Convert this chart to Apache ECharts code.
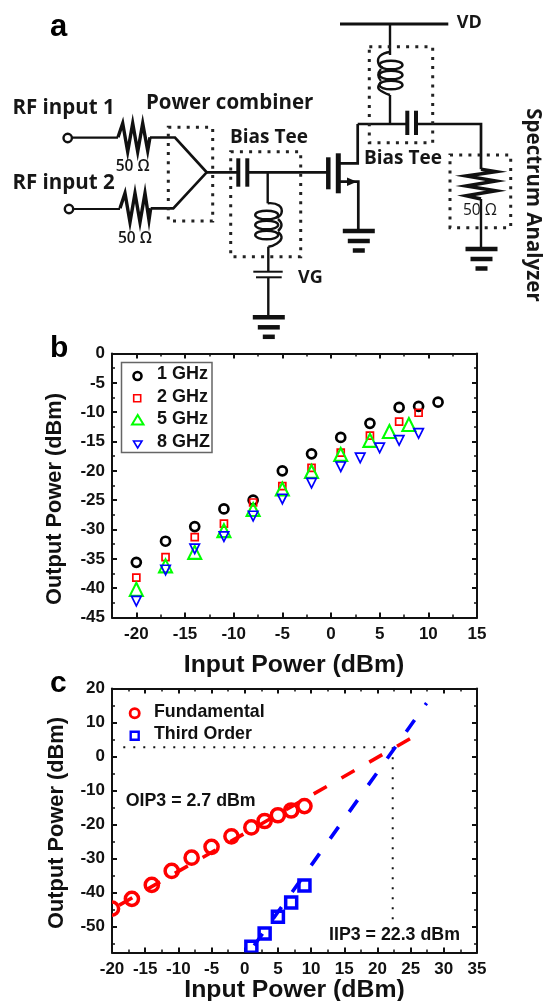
<!DOCTYPE html>
<html>
<head>
<meta charset="utf-8">
<title>Power amplifier linearity</title>
<style>
    html, body { margin: 0; padding: 0; background: #fff; }
    #chart { width: 543px; height: 1001px; }
</style>
<script src="https://cdn.jsdelivr.net/npm/echarts@6/dist/echarts.min.js"></script>
</head>
<body>
<div id="chart"></div>
<script>
/* ---------- panel b ---------- */
const gain1x = [-20, -17, -14, -11, -8, -5, -2, 1, 4, 7, 9, 11];
const gain1y = [-35.6, -32, -29.5, -26.5, -25, -20, -17.1, -14.3, -11.9, -9.2, -9, -8.3];
const gain2x = [-20, -17, -14, -11, -8, -5, -2, 1, 4, 7, 9];
const gain2y = [-38.2, -34.7, -31.3, -29, -25.4, -22.6, -19.5, -16.9, -14, -11.6, -10.1];
const gain5x = [-20, -17, -14, -11, -8, -5, -2, 1, 4, 6, 8];
const gain5y = [-40.2, -36.2, -33.9, -30.2, -26.6, -23.1, -20.1, -17.2, -14.8, -13.3, -12.1];
const gain8x = [-20, -17, -14, -11, -8, -5, -2, 1, 3, 5, 7, 9];
const gain8y = [-42.2, -36.9, -33.3, -31.2, -27.7, -24.8, -22.1, -19.3, -17.8, -16.1, -14.8, -13.6];

const bTicksX = [-20, -15, -10, -5, 0, 5, 10, 15];
const bMinorX = [-17.5, -12.5, -7.5, -2.5, 2.5, 7.5, 12.5];
const bTicksY = [0, -5, -10, -15, -20, -25, -30, -35, -40, -45];
const bMinorY = [-2.5, -7.5, -12.5, -17.5, -22.5, -27.5, -32.5, -37.5, -42.5];

/* ---------- panel c ---------- */
const fundX = [-20, -17, -14, -11, -8, -5, -2, 1, 3, 5, 7, 9];
const fundY = [-44.8, -41.9, -37.8, -33.7, -29.8, -26.6, -23.5, -20.9, -19, -17.3, -15.9, -14.6];
const thirdX = [1, 3, 5, 7, 9];
const thirdY = [-56, -52.1, -47.2, -43, -38];
const fundFitX = [-20, 24.9];
const fundFitY = [-45, 5.2];
const thirdFitX = [1, 27.4];
const thirdFitY = [-56.8, 15.7];
const oipGuideX = [-18.3, 22.3];
const oipGuideY = [2.7, 2.7];
const iipGuideX = [22.3, 22.3];
const iipGuideY = [2.7, -49];

const cTicksX = [-20, -15, -10, -5, 0, 5, 10, 15, 20, 25, 30, 35];
const cMinorX = [-17.5, -12.5, -7.5, -2.5, 2.5, 7.5, 12.5, 17.5, 22.5, 27.5, 32.5];
const cTicksY = [20, 10, 0, -10, -20, -30, -40, -50];
const cMinorY = [15, 5, -5, -15, -25, -35, -45, -55];

const zip = (xs, ys) => xs.map((x, i) => [x, ys[i]]);

const AXIS_FONT = "Liberation Sans";
const SCHEMATIC_FONT = "Open Sans";
const INK = "#111";

// 四条边都要刻度：主刻度一根轴，次刻度一根轴，上下左右各一份
function axisSet(dim, gridIndex, min, max, major, minor) {
    const sides = dim === "x" ? ["bottom", "top"] : ["left", "right"];
    const base = {
        type: "value", gridIndex, min, max,
        splitLine: { show: false },
        minorTick: { show: false },
    };
    const axes = [];
    sides.forEach((position, s) => {
        axes.push({
            ...base, position,
            axisLine: { show: true, onZero: false, lineStyle: { color: INK, width: 2 } },
            axisTick: { show: true, inside: true, length: 5, customValues: major, lineStyle: { color: INK, width: 2 } },
            axisLabel: {
                show: s === 0, customValues: major, margin: dim === "x" ? 8 : 7,
                color: INK, fontFamily: AXIS_FONT, fontWeight: "bold", fontSize: 17,
            },
        });
        axes.push({
            ...base, position,
            axisLine: { show: false, onZero: false },
            axisTick: { show: true, inside: true, length: 3, customValues: minor, lineStyle: { color: INK, width: 1.5 } },
            axisLabel: { show: false },
        });
    });
    return axes;
}

function hollowSeries(name, xs, ys, symbol, size, color, width, rotate) {
    return {
        name, type: "scatter", xAxisIndex: 0, yAxisIndex: 0,
        symbol, symbolSize: size, symbolRotate: rotate || 0,
        itemStyle: { color: "rgba(0,0,0,0)", borderColor: color, borderWidth: width, opacity: 1 },
        data: zip(xs, ys),
    };
}

// 面板 c 的点在边框处被裁掉一半，scatter 只按中心过滤，所以用 custom
function clippedSeries(name, xs, ys, draw) {
    return {
        name, type: "custom", xAxisIndex: 4, yAxisIndex: 4, clip: true, z: 4,
        encode: { x: 0, y: 1 },
        renderItem: (params, api) => draw(api.coord([api.value(0), api.value(1)])),
        data: zip(xs, ys),
    };
}

function fitLine(name, xs, ys, color, dash, dashOffset) {
    return {
        name, type: "line", xAxisIndex: 4, yAxisIndex: 4, showSymbol: false, z: 3,
        lineStyle: { color, width: 3.6, type: dash, dashOffset },
        data: zip(xs, ys),
    };
}

function guideLine(name, xs, ys) {
    return {
        name, type: "line", xAxisIndex: 4, yAxisIndex: 4, showSymbol: false, z: 2,
        lineStyle: { color: INK, width: 2, type: [2, 8] },
        data: zip(xs, ys),
    };
}

/* ---------- 电路图和文字 ---------- */
const wire = (points, lineWidth = 2.7, stroke = INK) => ({
    type: "polyline", shape: { points }, style: { stroke, lineWidth, fill: "none" },
});
const smoothWire = (points) => ({
    type: "polyline", shape: { points, smooth: 0.5 }, style: { stroke: INK, lineWidth: 2.4, fill: "none" },
});
const dottedBox = (l, t, r, b) => ({
    type: "rect", shape: { x: l, y: t, width: r - l, height: b - t },
    style: { stroke: "#222", lineWidth: 3, lineDash: [3, 6.2], fill: "none" },
});
const loop = (cx, cy) => ({
    type: "ellipse", shape: { cx, cy, rx: 11.5, ry: 4.3 }, style: { stroke: INK, lineWidth: 2.4, fill: "none" },
});
const terminal = (cx, cy) => ({
    type: "circle", shape: { cx, cy, r: 4.2 }, style: { stroke: INK, lineWidth: 2.4, fill: "#fff" },
});
const ground = (cx, top) => [
    wire([[cx - 16, top], [cx + 16, top]], 4.5),
    wire([[cx - 11, top + 10], [cx + 11, top + 10]], 4.5),
    wire([[cx - 6, top + 19.5], [cx + 6, top + 19.5]], 4.5),
];
const label = (text, x, y, size, opts = {}) => ({
    type: "text", x, y, rotation: opts.rotation || 0, z: 10,
    style: {
        text, x: 0, y: 0, fill: opts.fill || "#161616",
        font: `${opts.weight || "bold"} ${size}px "${opts.family || SCHEMATIC_FONT}"`,
        align: opts.align || "left", verticalAlign: "middle",
    },
});
const axisText = (text, x, y, size, rotation) =>
    label(text, x, y, size, { family: AXIS_FONT, align: "center", rotation, fill: INK });

const schematic = [
    // 输入端和电阻
    terminal(67.7, 138), wire([[72, 137.7], [118, 137.7]], 2.2),
    wire([[118, 137.3], [122.7, 123.3], [127.7, 151.7], [132.7, 123.3], [137.7, 151.7], [142.7, 123.3], [147.7, 150.7], [150, 137.3]], 3.4),
    terminal(69, 209), wire([[73, 209], [120, 209]], 2.2),
    wire([[120, 208.3], [125, 193.3], [130, 222.3], [135, 193.3], [140, 222.3], [145, 193.3], [149, 220], [150.7, 208.3]], 3.4),
    // 合路器
    wire([[150, 137.5], [175, 137.5], [206.7, 172.3], [173.3, 208.3], [150.7, 208.3]]),
    wire([[206.7, 172.3], [238.3, 172.3]]),
    dottedBox(168.3, 127.3, 212.7, 221),
    // 栅极偏置
    wire([[238.3, 158.3], [238.3, 186.7]], 4), wire([[247.3, 158.3], [247.3, 186.7]], 4),
    wire([[247.3, 172.3], [328, 172.3]]),
    wire([[267.7, 172.3], [267.7, 203.3]], 2.4),
    smoothWire([[267.7, 203.3], [279, 205.5], [281.5, 213], [276, 218]]),
    loop(266.7, 215), loop(266.7, 225), loop(266.7, 235),
    smoothWire([[278, 219], [281.5, 225], [278, 231]]),
    smoothWire([[278, 232], [281.5, 238], [276, 244], [268.3, 246.7]]),
    wire([[268.3, 246.7], [268.3, 271.7]], 2.4),
    wire([[253.3, 271.7], [282.7, 271.7]], 2), wire([[256, 277.3], [281.7, 277.3]], 2),
    wire([[268.3, 277.3], [268.3, 317]], 2.4),
    ...ground(268.8, 317.3),
    dottedBox(230.7, 151.7, 300.7, 256.7),
    // 晶体管
    wire([[328.3, 157.3], [328.3, 189.3]], 4.5), wire([[338.3, 153.3], [338.3, 193.3]], 5),
    wire([[338.3, 163.3], [357.7, 163.3], [357.7, 124]]),
    wire([[338.3, 181.7], [358.3, 181.7], [358.3, 231]]),
    { type: "polygon", shape: { points: [[357, 181.7], [347, 177.5], [347, 186]] }, style: { fill: INK } },
    ...ground(358.8, 231),
    // 漏极偏置
    wire([[340, 24], [448.3, 24]], 3),
    wire([[390, 24], [390, 55]], 2.4),
    smoothWire([[390, 52], [380, 56], [378.3, 63], [383, 68]]),
    loop(391, 65), loop(391, 75), loop(391, 85),
    smoothWire([[381, 69], [378.3, 75], [381, 81]]),
    smoothWire([[381, 82], [378.3, 88], [383, 92], [390, 95]]),
    wire([[390, 95], [390, 124]], 2.4),
    wire([[357.7, 124], [407.3, 124]]),
    wire([[407.3, 110.7], [407.3, 135]], 4), wire([[416, 110.7], [416, 135]], 4),
    wire([[416, 124], [481, 124], [481, 169.3]]),
    dottedBox(369.3, 46.7, 432.7, 142.7),
    // 负载
    wire([[481, 169.3], [496, 171.7], [466, 176], [496, 181], [466, 186], [496, 190.7], [466, 195.7], [481, 199]], 3.4),
    wire([[481, 199], [481, 249]], 2.4),
    ...ground(481.5, 249),
    dottedBox(450, 155, 510.7, 227.7),
    // 电路图文字
    label("RF input 1", 12.5, 108, 20.5),
    label("RF input 2", 12.5, 182.7, 20.5),
    label("Power combiner", 146, 103, 20.5),
    label("Bias Tee", 230, 138, 19),
    label("Bias Tee", 364, 159, 19),
    label("50 Ω", 115.7, 166.7, 15.5, { weight: 600 }),
    label("50 Ω", 118, 238.3, 15.5, { weight: 600 }),
    label("50 Ω", 463, 210.7, 15.5, { weight: 400 }),
    label("VG", 298, 278, 18),
    label("VD", 456.7, 22.7, 18),
    label("Spectrum Analyzer", 533, 205, 20.5, { align: "center", rotation: -Math.PI / 2 }),
];

const legendB = [
    { type: "rect", shape: { x: 121.5, y: 362.5, width: 90.5, height: 90 }, style: { stroke: "#666", lineWidth: 1.5, fill: "#fff" }, z: 5 },
    { type: "circle", z: 6, shape: { cx: 137.5, cy: 376, r: 4 }, style: { stroke: "#000", lineWidth: 2.6, fill: "none" } },
    { type: "rect", z: 6, shape: { x: 133.7, y: 394.7, width: 7, height: 7 }, style: { stroke: "#f00", lineWidth: 1.6, fill: "none" } },
    { type: "polygon", z: 6, shape: { points: [[137.7, 415], [132, 424.5], [143.5, 424.5]] }, style: { stroke: "#0f0", lineWidth: 2, fill: "none" } },
    { type: "polygon", z: 6, shape: { points: [[137.7, 448], [133.5, 441], [142, 441]] }, style: { stroke: "#00f", lineWidth: 1.6, fill: "none" } },
    label("1 GHz", 157, 374.5, 18, { family: AXIS_FONT, fill: INK }),
    label("2 GHz", 157, 397, 18, { family: AXIS_FONT, fill: INK }),
    label("5 GHz", 157, 419.5, 18, { family: AXIS_FONT, fill: INK }),
    label("8 GHZ", 157, 442, 18, { family: AXIS_FONT, fill: INK }),
];

const legendC = [
    { type: "circle", z: 6, shape: { cx: 134.7, cy: 713.3, r: 4.6 }, style: { stroke: "#f00", lineWidth: 2.8, fill: "none" } },
    { type: "rect", z: 6, shape: { x: 130.7, y: 731.7, width: 8, height: 8 }, style: { stroke: "#00f", lineWidth: 2.4, fill: "none" } },
    label("Fundamental", 154, 711.7, 17.8, { family: AXIS_FONT, fill: INK }),
    label("Third Order", 154, 734, 17.8, { family: AXIS_FONT, fill: INK }),
    label("OIP3 = 2.7 dBm", 125.7, 800.7, 17.8, { family: AXIS_FONT, fill: INK }),
    label("IIP3 = 22.3 dBm", 329, 935, 17.8, { family: AXIS_FONT, fill: INK }),
];

const panelText = [
    label("a", 50, 27, 31, { family: AXIS_FONT, fill: "#000" }),
    label("b", 50, 349, 30, { family: AXIS_FONT, fill: "#000" }),
    label("c", 50, 684, 30, { family: AXIS_FONT, fill: "#000" }),
    axisText("Input Power (dBm)", 294, 665, 24.8, 0),
    axisText("Input Power (dBm)", 294.5, 990, 24.8, 0),
    axisText("Output Power (dBm)", 55, 499, 21.8, Math.PI / 2),
    axisText("Output Power (dBm)", 57, 823, 21.8, Math.PI / 2),
];

const chart = echarts.init(document.getElementById("chart"), null, { renderer: "canvas" });
chart.setOption({
    animation: false,
    backgroundColor: "#fff",
    grid: [
        { left: 112, top: 353.5, width: 365, height: 264 },
        { left: 112, top: 688.5, width: 365, height: 264 },
    ],
    xAxis: [
        ...axisSet("x", 0, -22.5, 15, bTicksX, bMinorX),
        ...axisSet("x", 1, -20, 35, cTicksX, cMinorX),
    ],
    yAxis: [
        ...axisSet("y", 0, -45, 0, bTicksY, bMinorY),
        ...axisSet("y", 1, -57.7, 20, cTicksY, cMinorY),
    ],
    series: [
        hollowSeries("1 GHz", gain1x, gain1y, "circle", 9, "#000", 2.7),
        hollowSeries("2 GHz", gain2x, gain2y, "rect", 7, "#f00", 1.7),
        hollowSeries("5 GHz", gain5x, gain5y, "triangle", 13, "#0f0", 2.1),
        hollowSeries("8 GHZ", gain8x, gain8y, "triangle", 9.5, "#00f", 1.7, 180),
        guideLine("OIP3 guide", oipGuideX, oipGuideY),
        guideLine("IIP3 guide", iipGuideX, iipGuideY),
        fitLine("Fundamental fit", fundFitX, fundFitY, "#f00", [15, 17], 23.6),
        fitLine("Third order fit", thirdFitX, thirdFitY, "#00f", [14.4, 18.4], 28),
        clippedSeries("Fundamental", fundX, fundY, (p) => ({
            type: "circle", shape: { cx: p[0], cy: p[1], r: 6.6 },
            style: { fill: "none", stroke: "#f00", lineWidth: 3.5 },
        })),
        clippedSeries("Third Order", thirdX, thirdY, (p) => ({
            type: "rect", shape: { x: p[0] - 5.5, y: p[1] - 5.5, width: 11, height: 11 },
            style: { fill: "none", stroke: "#00f", lineWidth: 3.5 },
        })),
    ],
    graphic: { elements: [...schematic, ...legendB, ...legendC, ...panelText] },
});
</script>
</body>
</html>
